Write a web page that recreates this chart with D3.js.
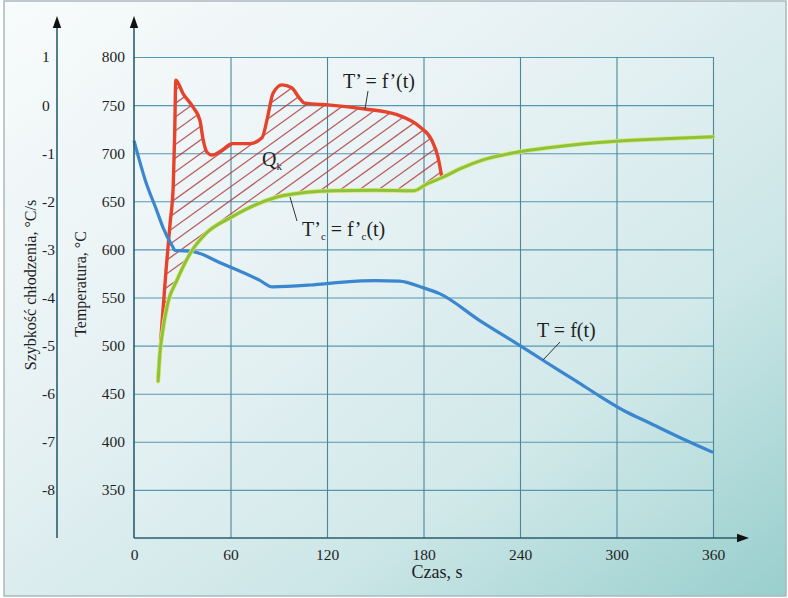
<!DOCTYPE html>
<html>
<head>
<meta charset="utf-8">
<script src="https://cdn.jsdelivr.net/npm/d3@7"></script>
<style>
  html, body { margin: 0; padding: 0; background: #ffffff; }
  svg { display: block; }
  text { font-family: "Liberation Serif", "Times New Roman", serif; fill: #1f1f1f; }
</style>
</head>
<body>
<svg id="chart" width="788" height="598"></svg>
<script>
// Axis ticks
const timeTicks = [0, 60, 120, 180, 240, 300, 360];
const tempTicks = [350, 400, 450, 500, 550, 600, 650, 700, 750, 800];
const rateTicks = [1, 0, -1, -2, -3, -4, -5, -6, -7, -8];

// T = f(t) : temperature of the sample [time s, temperature °C]
const sampleCurve = [
  [0, 713], [7, 672], [14, 641], [18, 623], [24, 603], [25.5, 599], [36, 598],
  [55, 585], [78, 568], [86, 561], [110, 563], [130, 566], [150, 567.5],
  [165, 567], [180, 560], [190, 554], [215, 526], [240, 500], [255, 484],
  [275, 463], [290, 447], [305, 432], [320, 420], [340, 404], [360, 389]
];

// T' = f'(t) : cooling-rate curve
const rateCurve = [
  [15, 465], [17.4, 523], [20, 580], [22.5, 628], [24.4, 666], [25.3, 720], [26, 776],
  [30.5, 762], [36.7, 748], [41, 734], [43, 714], [45.4, 701], [48.5, 698],
  [54.7, 703], [61, 710], [72, 710], [79.6, 716], [83, 737], [86.4, 762],
  [92, 771], [98, 768], [103, 757], [106, 752], [122, 750], [143.6, 746],
  [163.5, 740], [178, 727], [185, 714], [189, 696], [191.5, 674]
];

// T'c = f'c(t) : reference cooling-rate curve
const refCurve = [
  [15, 463], [16, 490], [17.4, 510], [21, 544], [26.7, 568], [35, 596], [45, 617],
  [60, 633], [76.5, 647], [93, 656], [124, 661], [150, 661.5], [174, 661],
  [182, 668], [192, 675], [203, 684], [217, 693], [238, 701], [259, 706],
  [300, 712.5], [330, 715], [360, 717]
];

const W = 788, H = 598;
const pLeft = 134, pRight = 713, pTop = 57, pBottom = 538;

const svg = d3.select("#chart");
const defs = svg.append("defs");

// background wash
const grad = defs.append("linearGradient").attr("id", "bg")
  .attr("x1", 0).attr("y1", 0).attr("x2", 1).attr("y2", 1);
[[0, "#f8fbfb"], [0.35, "#e8f2f4"], [0.7, "#cce6e7"], [1, "#98cfcd"]]
  .forEach(([o, c]) => grad.append("stop").attr("offset", o).attr("stop-color", c));

svg.append("rect").attr("width", W).attr("height", H).attr("fill", "#ffffff");
svg.append("rect").attr("x", 4).attr("y", 1).attr("width", W - 6).attr("height", H - 3)
  .attr("fill", "url(#bg)").attr("stroke", "#a9b9bd").attr("stroke-width", 1.5);

// scales
const x = d3.scaleLinear().domain([0, 360]).range([pLeft, pRight]);
const y = d3.scaleLinear().domain([300, 800]).range([pBottom, pTop]);
const r = d3.scaleLinear().domain([-9, 1]).range([pBottom, pTop]);

// slightly lighter plot panel
svg.append("rect").attr("x", pLeft).attr("y", pTop)
  .attr("width", pRight - pLeft).attr("height", pBottom - pTop)
  .attr("fill", "#ffffff").attr("opacity", 0.12);

const labelFont = sel => sel.attr("font-size", 15.5).attr("fill", "#1f1f1f")
  .style("font-family", "'Liberation Serif', serif");

// horizontal grid + temperature labels
const gy = svg.append("g").attr("transform", `translate(${pLeft},0)`)
  .call(d3.axisLeft(y).tickValues(tempTicks).tickSize(-(pRight - pLeft)).tickPadding(9)
    .tickFormat(d3.format("d")));
gy.select(".domain").remove();
gy.selectAll(".tick line").attr("stroke", "#5698b3").attr("stroke-width", 1.1);
gy.selectAll(".tick text").call(labelFont);

// vertical grid + time labels
const gx = svg.append("g").attr("transform", `translate(0,${pBottom})`)
  .call(d3.axisBottom(x).tickValues(timeTicks).tickSize(-(pBottom - pTop)).tickPadding(11)
    .tickFormat(d3.format("d")));
gx.select(".domain").remove();
gx.selectAll(".tick line").attr("stroke", "#4a8799").attr("stroke-width", 1.1)
  .filter(d => d === 0).remove();
gx.selectAll(".tick text").call(labelFont);

// cooling-rate labels on the outer axis
const gr = svg.append("g").attr("transform", "translate(57,0)")
  .call(d3.axisLeft(r).tickValues(rateTicks).tickSize(0).tickFormat(d => String(d)));
gr.select(".domain").remove();
gr.selectAll(".tick text").attr("x", -15).attr("text-anchor", "start").call(labelFont);

// line generators
const line = d3.line().x(d => x(d[0])).y(d => y(d[1])).curve(d3.curveMonotoneX);

// hatched area Qk between T' and T'c
const redD = line(rateCurve);
const greenD = line(refCurve);
const tEnd = rateCurve[rateCurve.length - 1][0], tStart = rateCurve[0][0];
defs.append("clipPath").attr("id", "underRed").append("path")
  .attr("d", redD + `L${x(tEnd)},${pBottom + 40}L${x(tStart)},${pBottom + 40}Z`);
defs.append("clipPath").attr("id", "aboveGreen").append("path")
  .attr("d", greenD + `L${x(360)},0L${x(refCurve[0][0])},0Z`);

const hatch = svg.append("g").attr("clip-path", "url(#underRed)")
  .append("g").attr("clip-path", "url(#aboveGreen)");
const hx0 = x(tStart) - 500, hx1 = x(tEnd) + 20;
const yTopH = y(790), yBotH = y(450);
const rise = yBotH - yTopH, run = rise / 0.72;
hatch.selectAll("line").data(d3.range(hx0, hx1, 19)).join("line")
  .attr("x1", d => d).attr("y1", yBotH)
  .attr("x2", d => d + run).attr("y2", yTopH)
  .attr("stroke", "#b24548").attr("stroke-width", 1.3).attr("opacity", 0.85);

// curves
svg.append("path").attr("d", redD).attr("fill", "none")
  .attr("stroke", "#e5432c").attr("stroke-width", 3.4).attr("stroke-linejoin", "round");
svg.append("path").attr("d", line(sampleCurve)).attr("fill", "none")
  .attr("stroke", "#3a86cf").attr("stroke-width", 3.2).attr("stroke-linejoin", "round");
svg.append("path").attr("d", greenD).attr("fill", "none")
  .attr("stroke", "#dfe56a").attr("stroke-width", 4.4).attr("stroke-linecap", "round");
svg.append("path").attr("d", greenD).attr("fill", "none")
  .attr("stroke", "#8cc33c").attr("stroke-width", 3).attr("stroke-linecap", "round");

// axes with arrows
const axisCol = "#2b5d6e";
svg.append("line").attr("x1", pLeft).attr("y1", pBottom).attr("x2", pLeft).attr("y2", 24)
  .attr("stroke", axisCol).attr("stroke-width", 1.6);
svg.append("line").attr("x1", 57).attr("y1", pBottom).attr("x2", 57).attr("y2", 24)
  .attr("stroke", axisCol).attr("stroke-width", 1.6);
svg.append("line").attr("x1", pLeft).attr("y1", pBottom).attr("x2", 740).attr("y2", pBottom)
  .attr("stroke", axisCol).attr("stroke-width", 1.6);
[pLeft, 57].forEach(ax => svg.append("path")
  .attr("d", `M${ax},16L${ax + 4.2},28L${ax - 4.2},28Z`).attr("fill", "#111"));
svg.append("path").attr("d", `M749,${pBottom}L737,${pBottom - 4.2}L737,${pBottom + 4.2}Z`)
  .attr("fill", "#111");

// axis titles
svg.append("text").attr("x", 437).attr("y", 578).attr("text-anchor", "middle")
  .attr("font-size", 18).text("Czas, s");
svg.append("text").attr("transform", "translate(86,284) rotate(-90)")
  .attr("text-anchor", "middle").attr("font-size", 16).text("Temperatura, °C");
svg.append("text").attr("transform", "translate(36,285) rotate(-90)")
  .attr("text-anchor", "middle").attr("font-size", 16).text("Szybkość chłodzenia, °C/s");

// curve labels with leaders
const leader = (x1, y1, x2, y2) => svg.append("line")
  .attr("x1", x1).attr("y1", y1).attr("x2", x2).attr("y2", y2)
  .attr("stroke", "#333").attr("stroke-width", 1);

svg.append("text").attr("x", 343).attr("y", 88).attr("font-size", 20).text("T’ = f’(t)");
leader(368, 91, 365, 109);

svg.append("text").attr("x", 537).attr("y", 337).attr("font-size", 20).text("T = f(t)");
leader(560, 342, 543, 360);

const tc = svg.append("text").attr("x", 302).attr("y", 236).attr("font-size", 20);
tc.append("tspan").text("T’");
tc.append("tspan").attr("font-size", 11).attr("dy", 4).text("c");
tc.append("tspan").attr("dy", -4).text(" = f’");
tc.append("tspan").attr("font-size", 11).attr("dy", 4).text("c");
tc.append("tspan").attr("dy", -4).text("(t)");
leader(297, 221, 290, 197);

const qk = svg.append("text").attr("x", 262).attr("y", 166).attr("font-size", 20);
qk.append("tspan").text("Q");
qk.append("tspan").attr("font-size", 11).attr("dy", 4).text("k");
</script>
</body>
</html>
